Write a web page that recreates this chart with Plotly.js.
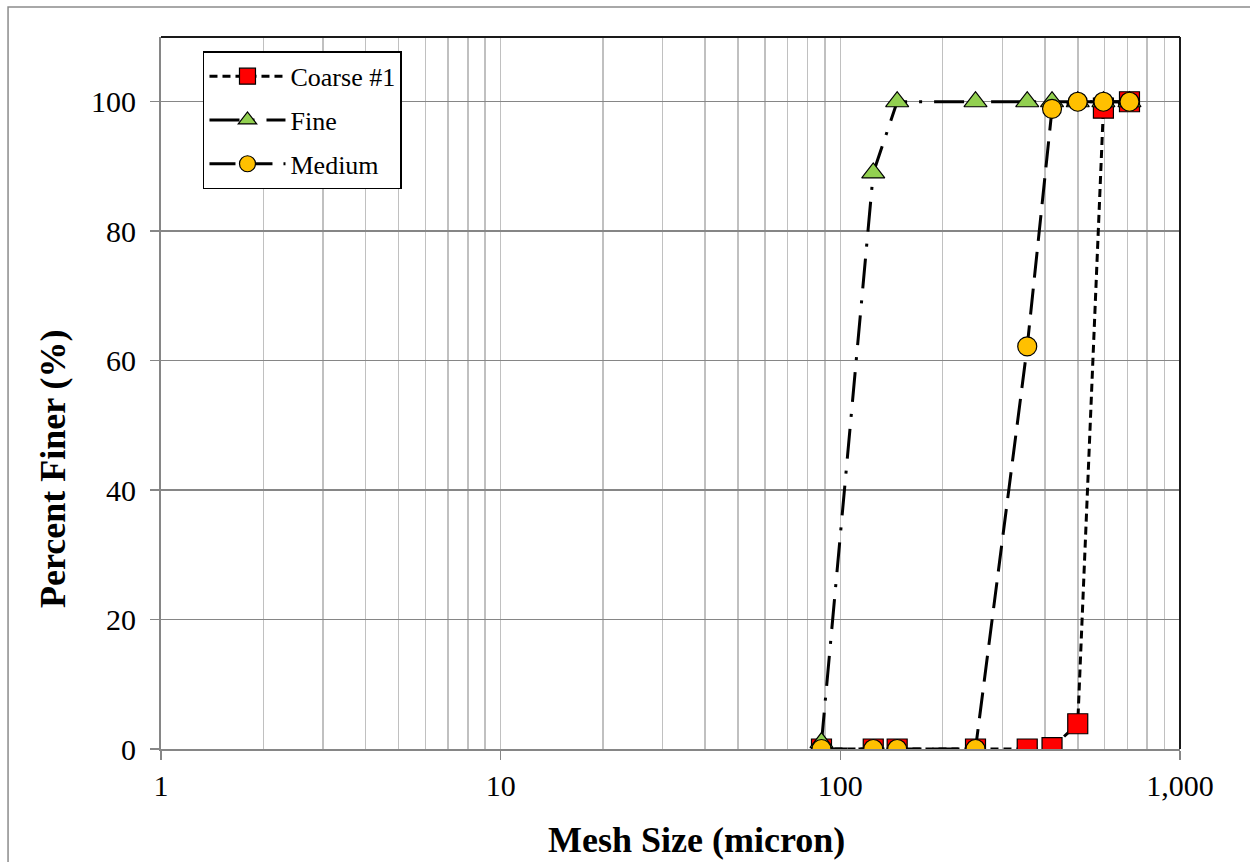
<!DOCTYPE html>
<html>
<head>
<meta charset="utf-8">
<script src="https://cdn.plot.ly/plotly-3.0.1.min.js"></script>
<style>
  html, body { margin: 0; padding: 0; background: #ffffff; }
  #chart { width: 1250px; height: 862px; }
</style>
</head>
<body>
<div id="chart"></div>
<script>
// Mesh sizes (micron)
const meshSizes = [88, 125, 147, 250, 355, 420, 500, 595, 710];

// Percent finer (%) per sample
const coarse1 = [0, 0, 0, 0, 0, 0.2, 3.9, 99.0, 100];
const fine    = [1.0, 89.0, 100, 100, 100, 100, 100, 100, 100];
const medium  = [0, 0, 0, 0, 62.2, 98.9, 100, 100, 100];

const seriesNames = ["Coarse #1", "Fine", "Medium"];

// Axis ticks and titles
const xTickVals = [1, 10, 100, 1000];
const xTickText = ["1", "10", "100", "1,000"];
const xMinorVals = [2,3,4,5,6,7,8,9, 20,30,40,50,60,70,80,90, 200,300,400,500,600,700,800,900];
const yTickVals = [0, 20, 40, 60, 80, 100];
const xTitle = "Mesh Size (micron)";
const yTitle = "Percent Finer (%)";

const serif = 'Liberation Serif, Times New Roman, serif';

const traces = [
  {
    x: meshSizes, y: coarse1, name: seriesNames[0], legendgroup: 'g1',
    type: 'scatter', mode: 'lines+markers',
    line: { color: '#000000', width: 3, dash: '8px,5px' },
    marker: { symbol: 'square', size: 20, color: '#ff0000', line: { color: '#000000', width: 1.2 } }
  },
  {
    x: meshSizes, y: fine, name: seriesNames[1], legendgroup: 'g2',
    type: 'scatter', mode: 'lines+markers',
    line: { color: '#000000', width: 3, dash: '30px,12px,3px,12px' },
    marker: { symbol: 'triangle-up', size: 20, color: '#92d050', line: { color: '#000000', width: 1.2 } }
  },
  {
    x: meshSizes, y: medium, name: seriesNames[2], legendgroup: 'g3',
    type: 'scatter', mode: 'lines+markers',
    line: { color: '#000000', width: 3, dash: '26px,11px' },
    marker: { symbol: 'circle', size: 19, color: '#ffc000', line: { color: '#000000', width: 1.2 } }
  }
];

const layout = {
  width: 1250, height: 862,
  margin: { l: 161, r: 70, t: 37, b: 113 },
  paper_bgcolor: '#ffffff', plot_bgcolor: '#ffffff',
  font: { family: serif, color: '#000000' },
  showlegend: true,
  legend: {
    x: 0.0412, y: 0.98, xanchor: 'left', yanchor: 'top',
    bgcolor: '#ffffff', bordercolor: '#000000', borderwidth: 1.5,
    font: { family: serif, size: 26, color: '#000000' },
    traceorder: 'grouped', tracegroupgap: 7, itemwidth: 76,
    entrywidth: 200, entrywidthmode: 'pixels'
  },
  xaxis: {
    type: 'log', range: [0, 3],
    tickmode: 'array', tickvals: xTickVals, ticktext: xTickText,
    ticks: 'outside', ticklen: 9, tickwidth: 1.5, tickcolor: '#868686',
    tickfont: { family: serif, size: 30, color: '#000000' },
    showgrid: true, gridcolor: '#c0c0c0', gridwidth: 1.5,
    minor: { tickmode: 'array', tickvals: xMinorVals, showgrid: true, gridcolor: '#c0c0c0', gridwidth: 1.5, ticks: '' },
    showline: true, linecolor: '#868686', linewidth: 2,
    zeroline: false
  },
  yaxis: {
    range: [0, 110],
    tickmode: 'array', tickvals: yTickVals,
    ticks: 'outside', ticklen: 9, tickwidth: 1.5, tickcolor: '#868686',
    tickfont: { family: serif, size: 30, color: '#000000' },
    ticklabelstandoff: 8,
    showgrid: true, gridcolor: '#868686', gridwidth: 1.5,
    showline: true, linecolor: '#868686', linewidth: 2,
    zeroline: false
  },
  annotations: [
    { text: '<b>' + xTitle + '</b>', xref: 'paper', yref: 'paper', x: 0.526, y: -0.128,
      xanchor: 'center', yanchor: 'middle', showarrow: false,
      font: { family: serif, size: 36, color: '#000000' } },
    { text: '<b>' + yTitle + '</b>', xref: 'paper', yref: 'paper', x: -0.106, y: 0.3947,
      xanchor: 'center', yanchor: 'middle', showarrow: false, textangle: -90,
      font: { family: serif, size: 36, color: '#000000' } }
  ],
  shapes: [
    { type: 'rect', xref: 'paper', yref: 'paper', x0: -0.1501, x1: 1.2, y0: -0.3, y1: 1.0421,
      line: { color: '#8c8c8c', width: 1.5 }, fillcolor: 'rgba(0,0,0,0)', layer: 'below' },
    { type: 'line', xref: 'paper', yref: 'paper', x0: 0, x1: 1, y0: 1, y1: 1,
      line: { color: '#1a1a1a', width: 2 }, layer: 'above' },
    { type: 'line', xref: 'paper', yref: 'paper', x0: 1, x1: 1, y0: 0, y1: 1,
      line: { color: '#1a1a1a', width: 2 }, layer: 'above' }
  ]
};

Plotly.newPlot('chart', traces, layout, { displayModeBar: false, staticPlot: true });
</script>
</body>
</html>
